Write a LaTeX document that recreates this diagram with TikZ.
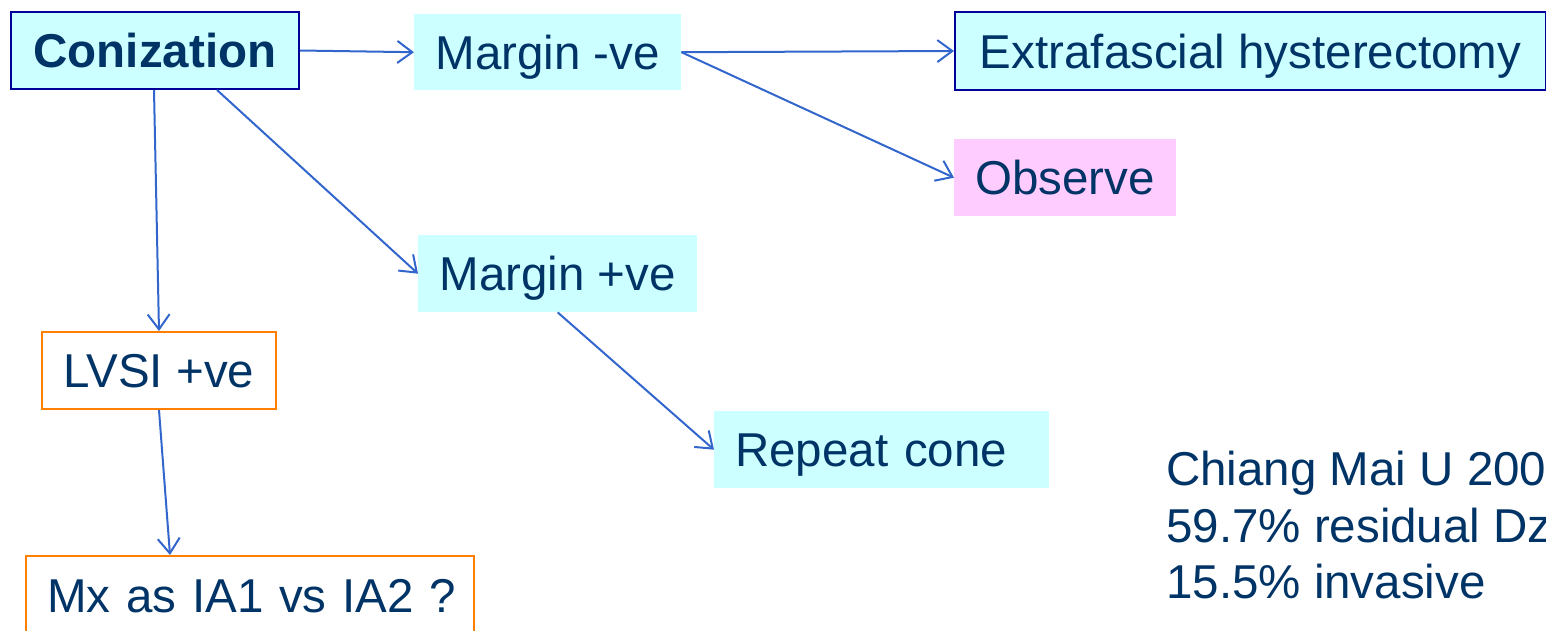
\documentclass[tikz,border=0pt]{standalone}
\usepackage{fontspec}
\setmainfont{Liberation Sans}
\usetikzlibrary{arrows.meta,calc}
\definecolor{txtblue}{HTML}{003366}
\definecolor{arrblue}{HTML}{3366CC}
\definecolor{boxcyan}{HTML}{CCFFFF}
\definecolor{boxpink}{HTML}{FFCCFF}
\definecolor{darkborder}{HTML}{000099}
\definecolor{orangeborder}{HTML}{FF8000}
\tikzset{
  base/.style={anchor=north west, inner sep=0pt, text=txtblue,
    font=\fontsize{47.5}{57}\selectfont, text height=34pt, text depth=0pt},
  cyanbox/.style={base, fill=boxcyan},
  bluebox/.style={base, fill=boxcyan, draw=darkborder, line width=2pt},
  pinkbox/.style={base, fill=boxpink},
  orangebox/.style={base, fill=white, draw=orangeborder, line width=2pt},
  leftpad/.style={inner xsep=21pt, align=left},
  note/.style={anchor=base west, inner sep=0pt, text=txtblue,
    font=\fontsize{47.5}{57}\selectfont},
  conn/.style={draw=arrblue, line width=2pt,
    -{Straight Barb[length=15pt,width=22pt,line width=2pt]}}
}
\begin{document}
\begin{tikzpicture}[x=1pt,y=-1pt]
\useasboundingbox (0,0) rectangle (1546,630);
\clip (0,0) rectangle (1546,630);
\node[bluebox, minimum width=288pt, minimum height=77pt] (conz) at (10,11) {\bfseries Conization};
\node[cyanbox, minimum width=267pt, minimum height=76pt] (margm) at (414,14) {Margin -ve};
\node[bluebox, minimum width=591pt, minimum height=78pt] (extra) at (954,11) {Extrafascial hysterectomy};
\node[pinkbox, minimum width=222pt, minimum height=77pt] (obs) at (954,139) {Observe};
\node[cyanbox, minimum width=279pt, minimum height=77pt] (marp) at (418,235) {Margin +ve};
\node[cyanbox, leftpad, text width=293pt, minimum height=77pt] (rep) at (714,411) {\mbox{Repeat cone}};
\node[orangebox, minimum width=234pt, minimum height=77pt] (lvsi) at (41,331) {LVSI +ve};
\node[orangebox, leftpad, text width=406pt, minimum height=78pt] (mx) at (25,555) {\mbox{Mx as IA1 vs IA2 ?}};
\node[note] (ch1) at (1166,485) {Chiang Mai U 200};
\node[note] (ch2) at (1166,542) {59.7\% residual Dz};
\node[note] (ch3) at (1166,598) {15.5\% invasive};
\draw[conn] (conz.east) -- (margm.west);
\draw[conn] (margm.east) -- (extra.west);
\draw[conn] (margm.east) -- (obs.west);
\draw[conn] ([xshift=207pt]conz.south west) -- (marp.west);
\draw[conn] ([xshift=-1pt]conz.south) -- (lvsi.north);
\draw[conn] (marp.south) -- (rep.west);
\draw[conn] (lvsi.south) -- ([xshift=145pt]mx.north west);
\end{tikzpicture}
\end{document}
